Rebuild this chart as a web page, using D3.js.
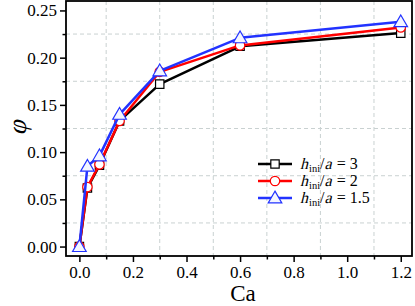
<!DOCTYPE html>
<html><head><meta charset="utf-8">
<script src="https://cdn.jsdelivr.net/npm/d3@7"></script>
<style>body{margin:0;background:#fff}svg{display:block}</style>
</head><body>
<svg id="c" width="415" height="306"></svg>
<script>
const ca = [0, 0.03, 0.075, 0.15, 0.3, 0.6, 1.2];
const phiH3 = [0, 0.062, 0.086, 0.133, 0.172, 0.212, 0.226];
const phiH2 = [0, 0.063, 0.087, 0.133, 0.185, 0.213, 0.232];
const phiH15 = [0, 0.085, 0.096, 0.140, 0.186, 0.221, 0.238];
const seriesNames = ["3", "2", "1.5"];
const xTicks = [0.0, 0.2, 0.4, 0.6, 0.8, 1.0, 1.2];
const yTicks = [0.00, 0.05, 0.10, 0.15, 0.20, 0.25];
const xMinor = [0.1, 0.3, 0.5, 0.7, 0.9, 1.1];
const yMinor = [0.025, 0.075, 0.125, 0.175, 0.225];

const svg = d3.select("#c");
const L = 66, R = 412, T = 1, B = 256;
const x = d3.scaleLinear().domain([-0.05, 1.242]).range([L, R]);
const y = d3.scaleLinear().domain([-0.01, 0.26]).range([B, T]);
const font = "'Liberation Serif'";

// grid
const g = svg.append("g");
g.selectAll("line.vx").data(xMinor).join("line")
  .attr("x1", d => x(d)).attr("x2", d => x(d)).attr("y1", T).attr("y2", B)
  .attr("stroke", "#c9d1d1").attr("stroke-width", 1).attr("stroke-dasharray", "4,3");
g.selectAll("line.hy").data(yMinor).join("line")
  .attr("x1", L).attr("x2", R).attr("y1", d => y(d)).attr("y2", d => y(d))
  .attr("stroke", "#c9d1d1").attr("stroke-width", 1).attr("stroke-dasharray", "4,3");

// axes
const xAxis = d3.axisBottom(x).tickValues(xTicks).tickFormat(d3.format(".1f")).tickSize(6).tickPadding(4);
const xAxisMinor = d3.axisBottom(x).tickValues(xMinor).tickFormat("").tickSize(3.5);
const yAxis = d3.axisLeft(y).tickValues(yTicks).tickFormat(d3.format(".2f")).tickSize(6).tickPadding(3);
const yAxisMinor = d3.axisLeft(y).tickValues(yMinor).tickFormat("").tickSize(3.5);

function styleAxis(sel) {
  sel.select(".domain").remove();
  sel.selectAll("line").attr("stroke", "#000").attr("stroke-width", 1.5);
  sel.selectAll("text").style("font-family", font).style("font-size", "17px").attr("fill", "#000");
}
svg.append("g").attr("transform", `translate(0,${B})`).call(xAxis).call(styleAxis);
svg.append("g").attr("transform", `translate(0,${B})`).call(xAxisMinor).call(styleAxis);
svg.append("g").attr("transform", `translate(${L},0)`).call(yAxis).call(styleAxis);
svg.append("g").attr("transform", `translate(${L},0)`).call(yAxisMinor).call(styleAxis);

// frame
svg.append("rect").attr("x", L).attr("y", T).attr("width", R - L).attr("height", B - T)
  .attr("fill", "none").attr("stroke", "#000").attr("stroke-width", 1.8);

// labels
svg.append("text").attr("x", 243).attr("y", 301).attr("text-anchor", "middle")
  .style("font-family", font).style("font-size", "23px").text("Ca");
svg.append("text").attr("transform", "translate(26,128) rotate(-90) skewX(-14)").attr("text-anchor", "middle")
  .style("font-family", font).style("font-size", "26px").text("φ");

// series
const colors = ["#000000", "#ff0000", "#2233ff"];
const data = [phiH3, phiH2, phiH15];
const shapes = [d3.symbolSquare, d3.symbolCircle, d3.symbolTriangle];
const sizes = [70, 70, 80];
const line = d3.line().x((d, i) => x(ca[i])).y(d => y(d));
data.forEach((vals, k) => {
  const s = svg.append("g");
  s.append("path").datum(vals).attr("d", line).attr("fill", "none")
    .attr("stroke", colors[k]).attr("stroke-width", 2.5).attr("stroke-linejoin", "round");
  s.selectAll("path.m").data(vals).join("path").attr("class", "m")
    .attr("transform", (d, i) => `translate(${x(ca[i])},${y(d) + (k === 2 ? 1 : 0)})`)
    .attr("d", d3.symbol().type(shapes[k]).size(sizes[k]))
    .attr("fill", k === 2 ? "#f4f6ff" : "#fff").attr("stroke", colors[k]).attr("stroke-width", 1.2);
});

// legend
const lx1 = 258, lx2 = 292, ly0 = 164, dy = 17;
seriesNames.forEach((nm, k) => {
  const yy = ly0 + k * dy;
  const lg = svg.append("g");
  lg.append("line").attr("x1", lx1).attr("x2", lx2).attr("y1", yy).attr("y2", yy)
    .attr("stroke", colors[k]).attr("stroke-width", 2.5);
  lg.append("path").attr("transform", `translate(${(lx1 + lx2) / 2},${yy + (k === 2 ? 1 : 0)})`)
    .attr("d", d3.symbol().type(shapes[k]).size(sizes[k]))
    .attr("fill", k === 2 ? "#f4f6ff" : "#fff").attr("stroke", colors[k]).attr("stroke-width", 1.2);
  const pieces = [
    {t: "h", it: true, fs: 16, dy: 0},
    {t: "ini", it: false, fs: 10.5, dy: 3},
    {t: "/", it: false, fs: 16, dy: 0},
    {t: "a", it: true, fs: 16, dy: 0},
    {t: " = " + nm, it: false, fs: 16, dy: 0}
  ];
  let px = 300;
  pieces.forEach(p => {
    const tx = lg.append("text")
      .attr("transform", `translate(${px},${yy + 5 + p.dy})` + (p.it ? " skewX(-14)" : ""))
      .style("font-family", font).style("font-size", p.fs + "px").style("white-space", "pre")
      .attr("xml:space", "preserve").text(p.t);
    px += tx.node().getComputedTextLength() + (p.it ? 1 : 0);
  });
});
</script>
</body></html>
